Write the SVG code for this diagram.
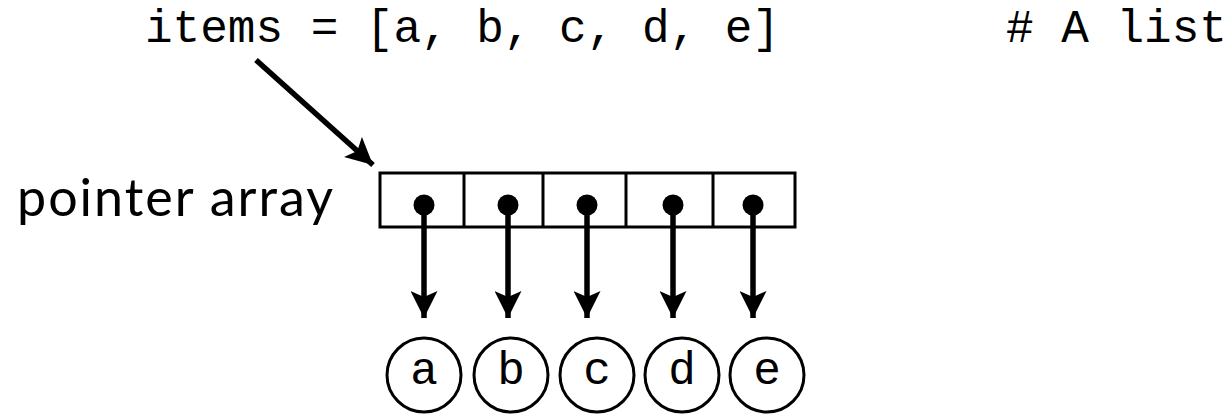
<svg xmlns="http://www.w3.org/2000/svg" width="1232" height="414" viewBox="0 0 1232 414">
<style>
.code{font-family:"Liberation Mono","Courier New",monospace;font-size:46px;fill:#000}
.label{font-family:Lato,"Open Sans",sans-serif;font-size:52px;fill:#000}
.cell{fill:#fff;stroke:#000;stroke-width:3}
.item{fill:#fff;stroke:#000;stroke-width:3}
.conn{stroke:#000;stroke-width:5.5;fill:none}
.dot{fill:#000}
</style>
<defs>
<marker id="ah" viewBox="0 0 10 10" refX="10" refY="5" markerUnits="userSpaceOnUse" markerWidth="27" markerHeight="27" orient="auto">
<path d="M0,0 L10,5 L0,10 L2.2,5 z" fill="#000"/>
</marker>
</defs>
<g id="code-line"><text class="code" x="145" y="42">items = [a, b, c, d, e]</text></g>
<g id="comment"><text class="code" x="1006" y="42"># A list</text></g>
<g id="label"><text class="label" x="17" y="216" textLength="316" lengthAdjust="spacing">pointer array</text></g>
<g id="array">
<rect class="cell" x="380" y="173" width="415" height="54"/>
<line class="cell" x1="464" y1="173" x2="464" y2="227"/>
<line class="cell" x1="543" y1="173" x2="543" y2="227"/>
<line class="cell" x1="626" y1="173" x2="626" y2="227"/>
<line class="cell" x1="713" y1="173" x2="713" y2="227"/>
<circle class="dot" cx="424" cy="205" r="10.5"/>
<circle class="dot" cx="508" cy="205" r="10.5"/>
<circle class="dot" cx="587" cy="205" r="10.5"/>
<circle class="dot" cx="673" cy="205" r="10.5"/>
<circle class="dot" cx="753" cy="205" r="10.5"/>
</g>
<g id="node-a"><circle class="item" cx="424" cy="375" r="37"/><text class="code" x="424" y="384" text-anchor="middle">a</text></g>
<g id="node-b"><circle class="item" cx="511" cy="375" r="37"/><text class="code" x="511" y="384" text-anchor="middle">b</text></g>
<g id="node-c"><circle class="item" cx="597" cy="375" r="37"/><text class="code" x="597" y="384" text-anchor="middle">c</text></g>
<g id="node-d"><circle class="item" cx="682" cy="375" r="37"/><text class="code" x="682" y="384" text-anchor="middle">d</text></g>
<g id="node-e"><circle class="item" cx="767" cy="375" r="37"/><text class="code" x="767" y="384" text-anchor="middle">e</text></g>
<g id="connectors">
<line class="conn" x1="256" y1="60" x2="373" y2="165" marker-end="url(#ah)"/>
<line class="conn" x1="424" y1="205" x2="424" y2="318" marker-end="url(#ah)"/>
<line class="conn" x1="508" y1="205" x2="508" y2="318" marker-end="url(#ah)"/>
<line class="conn" x1="587" y1="205" x2="587" y2="318" marker-end="url(#ah)"/>
<line class="conn" x1="673" y1="205" x2="673" y2="318" marker-end="url(#ah)"/>
<line class="conn" x1="753" y1="205" x2="753" y2="318" marker-end="url(#ah)"/>
</g>
</svg>
